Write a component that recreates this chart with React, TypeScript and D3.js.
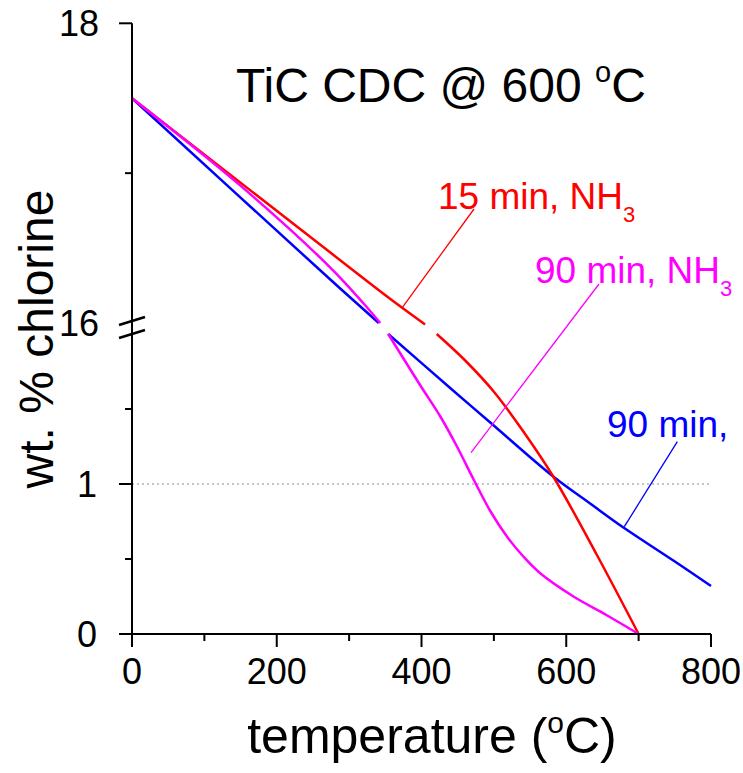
import React from "react";
import * as d3 from "d3";

// ---- data (temperature in °C, wt.% chlorine) ----
const blueUpperT = [0, 274, 341];
const blueUpperV = [17.5, 16.29, 16.0];
const blueLowerT = [354, 442, 495, 582, 633, 679, 748, 800];
const blueLowerV = [2.0, 1.63, 1.41, 1.05, 0.87, 0.71, 0.49, 0.32];

const redUpperT = [0, 149, 274, 357, 405];
const redUpperV = [17.5, 16.94, 16.47, 16.16, 15.99];
const redLowerT = [421, 460, 500, 540, 582, 642, 700];
const redLowerV = [2.0, 1.825, 1.615, 1.355, 1.05, 0.53, 0];

const magUpperT = [0, 149, 274, 320, 343];
const magUpperV = [17.5, 16.92, 16.37, 16.13, 16.0];
const magLowerT = [354, 398, 426, 449, 472, 495, 518, 541, 564, 610, 656, 700];
const magLowerV = [2.0, 1.66, 1.45, 1.25, 1.03, 0.82, 0.65, 0.515, 0.405, 0.25, 0.125, 0];

const xMajorTicks = [0, 200, 400, 600, 800];
const xMinorTicks = [100, 300, 500, 700];
const yUpperMajor = [18];
const yUpperMinor = [17];
const yUpperLabels = [18, 16];
const yLowerMajor = [0, 1];
const yLowerMinor = [0.5, 1.5];
const refLine = 1;

const RED = "#ff0000";
const MAG = "#ff00ff";
const BLUE = "#0000ff";
const FONT = "'Liberation Sans', Arial, Helvetica, sans-serif";

export default function App() {
  const x = d3.scaleLinear().domain([0, 800]).range([132, 711]);
  const yUp = d3.scaleLinear().domain([16, 18]).range([323, 23.3]);
  const yLo = d3.scaleLinear().domain([0, 2]).range([634, 334]);

  const mk = (T: number[], V: number[], y: d3.ScaleLinear<number, number>) =>
    d3
      .line<number>()
      .x((_, i) => x(T[i]))
      .y((_, i) => y(V[i]))
      .curve(d3.curveCatmullRom.alpha(0.5))(T) || "";

  const series = [
    { c: BLUE, u: mk(blueUpperT, blueUpperV, yUp), l: mk(blueLowerT, blueLowerV, yLo) },
    { c: RED, u: mk(redUpperT, redUpperV, yUp), l: mk(redLowerT, redLowerV, yLo) },
    { c: MAG, u: mk(magUpperT, magUpperV, yUp), l: mk(magLowerT, magLowerV, yLo) },
  ];

  const axisX = x(0);
  const axisY = yLo(0);

  return (
    <div style={{ position: "absolute", left: 0, top: 0 }}>
      <svg width={743} height={773} style={{ display: "block", background: "#fff" }} fontFamily={FONT}>
        {/* reference dotted line */}
        <line x1={axisX} x2={x(800)} y1={yLo(refLine)} y2={yLo(refLine)} stroke="#888" strokeWidth={1} strokeDasharray="2,3" />

        {/* curves */}
        {series.map((s, i) => (
          <g key={i} fill="none" stroke={s.c} strokeWidth={2.5}>
            <path d={s.u} />
            <path d={s.l} />
          </g>
        ))}

        {/* leader lines */}
        <line x1={401.7} y1={308.3} x2={474} y2={209} stroke={RED} strokeWidth={1.3} />
        <line x1={471} y1={452.7} x2={599} y2={284} stroke={MAG} strokeWidth={1.3} />
        <line x1={624.3} y1={526.7} x2={677.3} y2={441.7} stroke={BLUE} strokeWidth={1.3} />

        {/* axes */}
        <g stroke="#000" strokeWidth={2}>
          <line x1={axisX} x2={axisX} y1={yUp(18)} y2={axisY} />
          <line x1={axisX - 1} x2={x(800)} y1={axisY} y2={axisY} />
          {xMajorTicks.map((t) => (
            <line key={"xM" + t} x1={x(t)} x2={x(t)} y1={axisY} y2={axisY + 13} />
          ))}
          {xMinorTicks.map((t) => (
            <line key={"xm" + t} x1={x(t)} x2={x(t)} y1={axisY} y2={axisY + 7} />
          ))}
          {yUpperMajor.map((t) => (
            <line key={"yUM" + t} x1={axisX - 13} x2={axisX} y1={yUp(t)} y2={yUp(t)} />
          ))}
          {yUpperMinor.map((t) => (
            <line key={"yUm" + t} x1={axisX - 7} x2={axisX} y1={yUp(t)} y2={yUp(t)} />
          ))}
          {yLowerMajor.map((t) => (
            <line key={"yLM" + t} x1={axisX - 13} x2={axisX} y1={yLo(t)} y2={yLo(t)} />
          ))}
          {yLowerMinor.map((t) => (
            <line key={"yLm" + t} x1={axisX - 7} x2={axisX} y1={yLo(t)} y2={yLo(t)} />
          ))}
          {/* axis break marks */}
          <line x1={119} y1={325} x2={145} y2={317} strokeWidth={2.5} />
          <line x1={119} y1={338} x2={145} y2={330} strokeWidth={2.5} />
        </g>

        {/* tick labels */}
        <g fontSize={36} fill="#000">
          {xMajorTicks.map((t) => (
            <text key={"xl" + t} x={x(t)} y={axisY + 50} textAnchor="middle">
              {t}
            </text>
          ))}
          {yUpperLabels.map((t) => (
            <text key={"yul" + t} x={99} y={yUp(t) + 13} textAnchor="end">
              {t}
            </text>
          ))}
          {yLowerMajor.map((t) => (
            <text key={"yll" + t} x={97} y={yLo(t) + 13} textAnchor="end">
              {t}
            </text>
          ))}
        </g>

        {/* axis titles */}
        <text x={432} y={753} fontSize={50} textAnchor="middle" fill="#000">
          temperature (<tspan dy={-20} fontSize={30}>o</tspan>
          <tspan dy={20}>C)</tspan>
        </text>
        <text transform="translate(53,339) rotate(-90)" fontSize={48} textAnchor="middle" fill="#000">
          wt. % chlorine
        </text>

        {/* title */}
        <text x={236} y={102} fontSize={48} fill="#000">
          TiC CDC @ 600 <tspan dy={-20} fontSize={29}>o</tspan>
          <tspan dy={20}>C</tspan>
        </text>

        {/* annotations */}
        <text x={438} y={209} fontSize={37} fill={RED}>
          15 min, NH<tspan dy={13} fontSize={22}>3</tspan>
        </text>
        <text x={535} y={283} fontSize={37} fill={MAG}>
          90 min, NH<tspan dy={13} fontSize={22}>3</tspan>
        </text>
        <text x={607} y={437} fontSize={37} fill={BLUE}>
          90 min,
        </text>
      </svg>
    </div>
  );
}
